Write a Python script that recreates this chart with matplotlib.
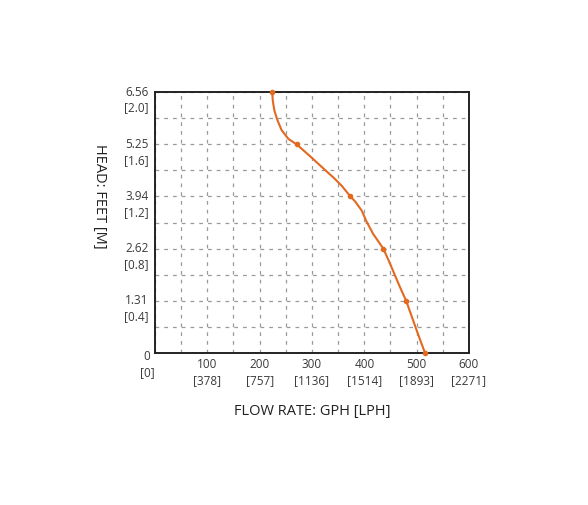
import numpy as np
import matplotlib
matplotlib.use("Agg")
import matplotlib.pyplot as plt
import matplotlib.transforms as mtransforms

plt.rcParams['font.family'] = ['Open Sans', 'DejaVu Sans']

# Curve (flow in GPH, head in feet)
flow_gph = [224, 225, 228, 234, 242, 255, 271, 296, 315, 325, 341, 357, 373, 383,
            395, 404, 417, 436, 447, 457, 468, 480, 490, 503, 516]
head_ft = [6.56, 6.35, 6.10, 5.85, 5.60, 5.38, 5.24, 4.95, 4.72, 4.60, 4.41, 4.20, 3.94, 3.80,
           3.58, 3.31, 2.99, 2.63, 2.31, 2.00, 1.66, 1.31, 0.94, 0.46, 0.0]
marker_flow = [224, 271, 373, 436, 480, 516]
marker_head = [6.56, 5.25, 3.94, 2.62, 1.31, 0.0]

x_ticks = [100, 200, 300, 400, 500, 600]
x_labels = ["100\n[378]", "200\n[757]", "300\n[1136]", "400\n[1514]", "500\n[1893]", "600\n[2271]"]
y_ticks = [1.31, 2.62, 3.94, 5.25, 6.56]
y_labels = ["1.31\n[0.4]", "2.62\n[0.8]", "3.94\n[1.2]", "5.25\n[1.6]", "6.56\n[2.0]"]

fig = plt.figure(figsize=(5.88, 5.06), dpi=100)
ax = fig.add_axes([0.2636, 0.3004, 0.534, 0.5158])

ax.set_xlim(0, 600)
ax.set_ylim(0, 6.56)

# dashed grid: every 50 GPH, every half step on head
ax.set_xticks(np.arange(0, 601, 50))
ax.set_yticks(np.arange(0, 11) * 6.56 / 10)
ax.set_xticklabels([])
ax.set_yticklabels([])
ax.tick_params(length=0)
ax.grid(True, color='#9a9a9a', linestyle=(0, (3, 4)), linewidth=0.9)
for sp in ax.spines.values():
    sp.set_linewidth(1.4)
    sp.set_color('#222222')

ax.plot(flow_gph, head_ft, color='#e2691f', linewidth=1.5, zorder=3,
        solid_joinstyle='round', solid_capstyle='round')
ax.plot(marker_flow, marker_head, 'o', color='#e2691f', markersize=3, zorder=4, clip_on=False)

# tick labels (first line centred on the tick)
lab_kw = dict(fontsize=8.5, color='#3a3a3a', linespacing=1.3, va='center_baseline', multialignment='center')
for xv, lab in zip(x_ticks, x_labels):
    ax.text(xv, 0, lab, transform=mtransforms.offset_copy(ax.get_xaxis_transform(), fig=fig, y=-16, units='dots'),
            ha='center', **lab_kw)
for yv, lab in zip(y_ticks, y_labels):
    ax.text(0, yv, lab, transform=mtransforms.offset_copy(ax.get_yaxis_transform(), fig=fig, x=-6, y=-4, units='dots'),
            ha='right', **lab_kw)
ax.text(0, 0, "0\n[0]", transform=mtransforms.offset_copy(ax.transAxes, fig=fig, x=-8, y=-8, units='dots'),
        ha='center', **lab_kw)

fig.text(0.531, 0.186, "FLOW RATE: GPH [LPH]", ha='center', va='center', fontsize=10.5, color='#222222')
fig.text(0.170, 0.612, "HEAD: FEET [M]", ha='center', va='center', rotation=-90, fontsize=10.5, color='#222222')

fig.savefig("out.png", dpi=100)
